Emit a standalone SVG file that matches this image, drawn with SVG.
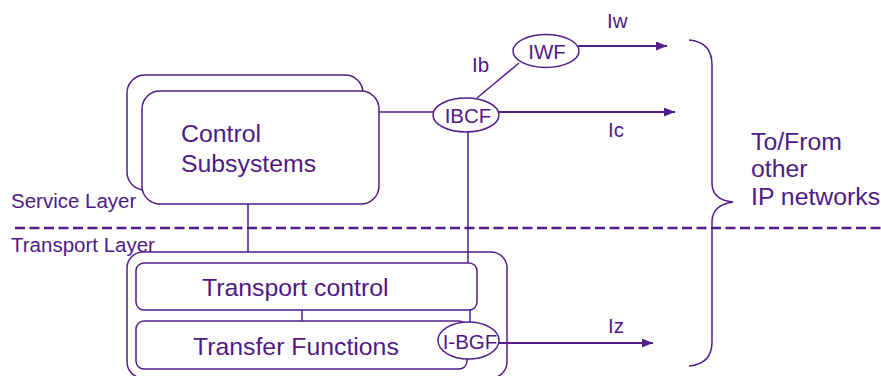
<svg xmlns="http://www.w3.org/2000/svg" width="881" height="376" viewBox="0 0 881 376">
<defs>
<style>
.s{fill:none;stroke:#521e8c;stroke-width:1.5}
.b{fill:#fff;stroke:#521e8c;stroke-width:1.5}
.t{fill:#4e1a86;font-family:"Liberation Sans",Arial,sans-serif}
.big{font-size:24.8px}
.mid{font-size:20.5px}
.arr{fill:none;stroke:#521e8c;stroke-width:2.2}
</style>
<marker id="ah" markerUnits="userSpaceOnUse" markerWidth="11" markerHeight="9" refX="11" refY="4.5" orient="auto">
<path d="M0,0 L11,4.5 L0,9 z" fill="#521e8c"/>
</marker>
</defs>
<rect width="881" height="376" fill="#fff"/>

<g id="layers">
<line x1="15" y1="228" x2="881" y2="228" stroke="#521e8c" stroke-width="2.4" stroke-dasharray="10 4.5"/>
<text class="t mid" x="11" y="208">Service Layer</text>
<text class="t mid" x="11" y="252">Transport Layer</text>
</g>

<g id="connectors">
<line class="s" x1="379" y1="112" x2="436" y2="112"/>
<line class="s" x1="477" y1="98" x2="519" y2="63"/>
<line class="s" x1="468" y1="130" x2="468" y2="263"/>
<line class="s" x1="470" y1="308" x2="470" y2="323"/>
<line class="s" x1="248" y1="203" x2="248" y2="252"/>
<line class="s" x1="302" y1="310" x2="302" y2="321"/>
<line class="arr" x1="578" y1="46" x2="667" y2="46" marker-end="url(#ah)"/>
<line class="arr" x1="498" y1="112" x2="675" y2="112" marker-end="url(#ah)"/>
<line class="arr" x1="498" y1="343" x2="653" y2="343" marker-end="url(#ah)"/>
<text class="t mid" x="607" y="28">Iw</text>
<text class="t mid" x="608" y="137">Ic</text>
<text class="t mid" x="608" y="333">Iz</text>
<text class="t mid" x="472" y="72">Ib</text>
</g>

<g id="control-subsystems">
<rect class="b" x="127" y="75" width="236" height="115" rx="18"/>
<rect class="b" x="142" y="91" width="237" height="113" rx="18"/>
<text class="t big" x="181" y="142">Control</text>
<text class="t big" x="181" y="172">Subsystems</text>
</g>

<g id="transport-layer-box">
<rect class="s" x="127" y="252" width="380" height="126" rx="16"/>
</g>

<g id="transport-control">
<rect class="b" x="136" y="263" width="341" height="47" rx="8"/>
<text class="t big" x="202" y="296">Transport control</text>
</g>

<g id="transfer-functions">
<rect class="b" x="136" y="321" width="331" height="48" rx="8"/>
<text class="t big" x="193" y="355">Transfer Functions</text>
</g>

<g id="ibcf">
<ellipse class="b" cx="466" cy="115" rx="33" ry="17"/>
<text class="t mid" x="468" y="123" text-anchor="middle">IBCF</text>
</g>

<g id="iwf">
<ellipse class="b" cx="546" cy="51" rx="33" ry="16.5"/>
<text class="t mid" x="547" y="59" text-anchor="middle">IWF</text>
</g>

<g id="i-bgf">
<ellipse class="b" cx="468.5" cy="340.5" rx="30.5" ry="18.5"/>
<text class="t mid" x="470" y="349" text-anchor="middle">I-BGF</text>
</g>

<g id="other-networks">
<path class="s" d="M689,40 Q712,42 712,65 L712,183 Q712,200 733,202 Q712,205 712,222 L712,342 Q712,364 689,366"/>
<text class="t big" x="751" y="150">To/From</text>
<text class="t big" x="751" y="177">other</text>
<text class="t big" x="751" y="205">IP networks</text>
</g>
</svg>
